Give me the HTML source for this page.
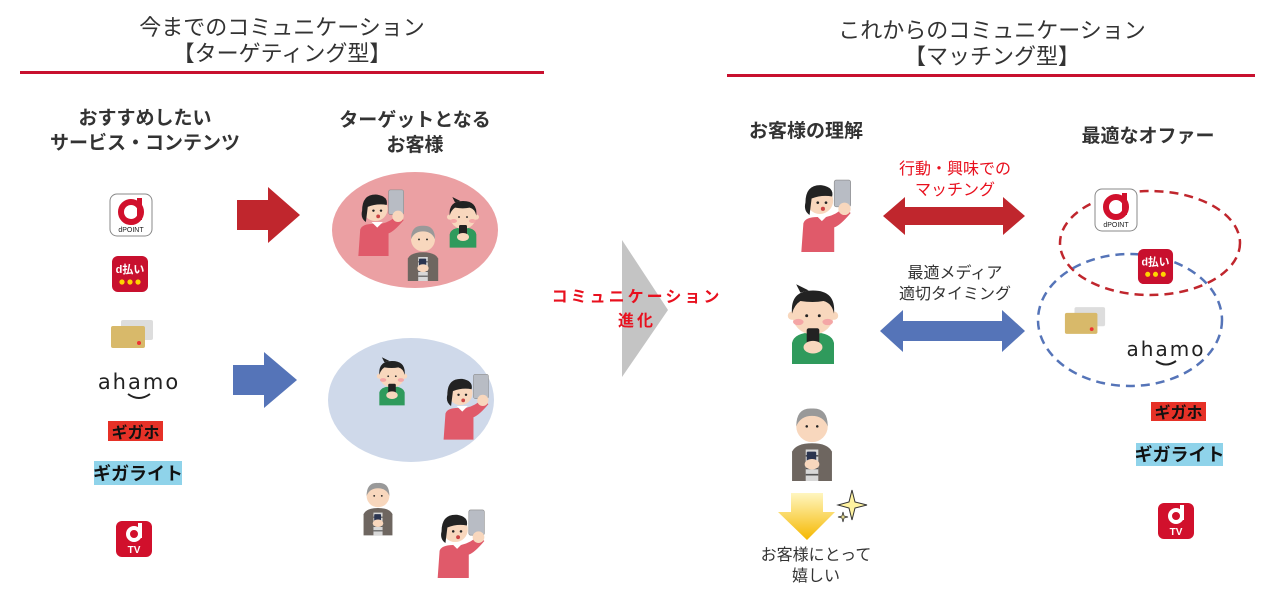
<!DOCTYPE html>
<html><head><meta charset="utf-8">
<style>
body{margin:0;width:1280px;height:593px;background:#fff;position:relative;overflow:hidden;font-family:"Liberation Sans","Noto Sans CJK JP",sans-serif;}
.t{position:absolute;text-align:center;white-space:nowrap;color:#333;}
.ab{position:absolute;}
</style></head><body>
<svg width="1280" height="593" style="position:absolute;left:0;top:0">
<defs>
<symbol id="woman" viewBox="0 0 60 72">
<rect x="38" y="2" width="16" height="26" rx="2" fill="#b8bcc4" stroke="#888" stroke-width="0.6"/>
<path d="M8 44 Q10 38 22 38 L30 38 Q40 36 48 28 L54 34 Q44 46 38 48 L38 72 L6 72 Z" fill="#e05a6a"/>
<circle cx="48" cy="30" r="6" fill="#f8d7bd"/>
<path d="M20 36 L26 42 L32 36 Z" fill="#fff"/>
<circle cx="24" cy="22" r="13" fill="#f8d7bd"/>
<path d="M10 24 Q10 6 26 7 Q38 9 36 18 Q26 16 16 20 L14 36 Q8 32 10 24Z" fill="#222"/>
<circle cx="22" cy="24" r="1.3" fill="#222"/><circle cx="30" cy="24" r="1.3" fill="#222"/>
<ellipse cx="27" cy="30" rx="2" ry="2" fill="#c44"/>
</symbol>
<symbol id="boy" viewBox="0 0 60 80">
<path d="M10 80 L10 60 Q12 50 30 50 Q48 50 50 60 L50 80Z" fill="#2f9a5c"/>
<circle cx="30" cy="32" r="20" fill="#f8d7bd"/>
<circle cx="10" cy="34" r="4" fill="#f8d7bd"/><circle cx="50" cy="34" r="4" fill="#f8d7bd"/>
<path d="M10 32 Q8 10 30 10 Q52 10 50 32 Q48 22 40 20 Q30 22 18 20 Q12 24 10 32Z" fill="#222"/>
<path d="M18 12 L14 4 L26 10Z" fill="#222"/>
<ellipse cx="16" cy="40" rx="5" ry="3" fill="#f4a6a6"/><ellipse cx="44" cy="40" rx="5" ry="3" fill="#f4a6a6"/>
<circle cx="24" cy="34" r="1.4" fill="#222"/><circle cx="36" cy="34" r="1.4" fill="#222"/>
<rect x="24" y="46" width="12" height="22" rx="2" fill="#222"/>
<ellipse cx="30" cy="64" rx="9" ry="6" fill="#f8d7bd"/>
</symbol>
<symbol id="oldman" viewBox="0 0 50 80">
<path d="M6 80 L6 52 Q10 44 25 44 Q40 44 44 52 L44 80Z" fill="#6e6660"/>
<rect x="19" y="50" width="12" height="30" fill="#d8d8d8"/>
<path d="M19 56 H31 M19 62 H31 M19 68 H31 M19 74 H31" stroke="#555" stroke-width="1.5"/>
<circle cx="25" cy="28" r="15" fill="#f8d7bd"/>
<path d="M10 28 Q10 10 25 11 Q40 10 40 28 Q36 18 25 18 Q14 18 10 28Z" fill="#999"/>
<circle cx="20" cy="28" r="1.2" fill="#222"/><circle cx="30" cy="28" r="1.2" fill="#222"/>
<rect x="20" y="52" width="9" height="16" rx="1" fill="#2b3550"/>
<ellipse cx="25" cy="64" rx="7" ry="5" fill="#f8d7bd"/>
</symbol>
<symbol id="dpoint" viewBox="0 0 44 44">
<rect x="1" y="1" width="42" height="42" rx="7" fill="#fff" stroke="#888" stroke-width="1"/>
<circle cx="22" cy="19" r="10" fill="none" stroke="#d1102c" stroke-width="6"/>
<rect x="28" y="5" width="5" height="22" fill="#d1102c"/>
<text x="22" y="39" font-size="7" text-anchor="middle" fill="#222" font-family="Liberation Sans">dPOINT</text>
</symbol>
<symbol id="dpay" viewBox="0 0 38 38">
<rect x="1" y="1" width="36" height="36" rx="6" fill="#c8102e"/>
<text x="19" y="18" font-size="11" text-anchor="middle" fill="#fff" font-weight="bold" font-family="Liberation Sans, Noto Sans CJK JP">d払い</text>
<circle cx="11" cy="27" r="2.6" fill="#ffd400"/><circle cx="19" cy="27" r="2.6" fill="#ffd400"/><circle cx="27" cy="27" r="2.6" fill="#ffd400"/>
</symbol>
<symbol id="card" viewBox="0 0 46 32">
<rect x="12" y="2" width="32" height="20" rx="2" fill="#ddd"/>
<rect x="2" y="8" width="34" height="22" rx="2" fill="#d8b96a"/>
<circle cx="30" cy="25" r="2" fill="#e33"/>
</symbol>
<symbol id="dtv" viewBox="0 0 38 38">
<rect x="1" y="1" width="36" height="36" rx="6" fill="#d1102c"/>
<circle cx="19" cy="14" r="6" fill="none" stroke="#fff" stroke-width="4"/>
<rect x="23" y="3" width="4" height="15" fill="#fff"/>
<text x="19" y="33" font-size="10" text-anchor="middle" fill="#fff" font-weight="bold" font-family="Liberation Sans">TV</text>
</symbol>
<linearGradient id="yg" x1="0" y1="0" x2="0" y2="1"><stop offset="0" stop-color="#fff6c0"/><stop offset="1" stop-color="#f5b800"/></linearGradient>
</defs>
<rect x="20" y="71" width="524" height="3" fill="#c8102e"/>
<rect x="727" y="74" width="528" height="3" fill="#c8102e"/>
<use href="#dpoint" x="109" y="193" width="44" height="44"/>
<use href="#dpay" x="111" y="255" width="38" height="38"/>
<use href="#card" x="109" y="318" width="46" height="32"/>
<text x="139" y="389" font-size="21" text-anchor="middle" fill="#222" font-family="DejaVu Sans" letter-spacing="2">ahamo</text>
<path d="M128 394 Q139 402 150 394" stroke="#222" stroke-width="2" fill="none"/>
<rect x="108" y="421" width="55" height="20" fill="#e63127"/>
<text x="135.5" y="438" font-size="16" font-weight="bold" text-anchor="middle" fill="#111" font-family="Noto Sans CJK JP">ギガホ</text>
<rect x="94" y="461" width="88" height="24" fill="#8fd3ea"/>
<text x="138" y="480" font-size="18" font-weight="bold" text-anchor="middle" fill="#111" font-family="Noto Sans CJK JP">ギガライト</text>
<use href="#dtv" x="115" y="520" width="38" height="38"/>
<polygon points="237,200 268,200 268,187 300,215 268,243 268,230 237,230" fill="#c0262d"/>
<polygon points="233,365 264,365 264,352 297,380 264,408 264,395 233,395" fill="#5574b8"/>
<ellipse cx="415" cy="230" rx="83" ry="58" fill="#eba0a3"/>
<ellipse cx="411" cy="400" rx="83" ry="62" fill="#cfd9ea"/>
<use href="#woman" x="352" y="188" width="58" height="68"/>
<use href="#oldman" x="403" y="212" width="40" height="74"/>
<use href="#boy" x="443" y="188" width="40" height="66"/>
<use href="#boy" x="373" y="348" width="38" height="64"/>
<use href="#woman" x="438" y="372" width="56" height="68"/>
<use href="#oldman" x="359" y="468" width="38" height="74"/>
<use href="#woman" x="430" y="508" width="62" height="70"/>
<polygon points="622,240 668,310 622,377" fill="#c4c4c4"/>
<polygon points="883,216 905,197 905,207 1003,207 1003,197 1025,216 1003,235 1003,225 905,225 905,235" fill="#c0262d"/>
<polygon points="880,331 903,310 903,321 1002,321 1002,310 1025,331 1002,352 1002,341 903,341 903,352" fill="#5574b8"/>
<use href="#woman" x="790" y="178" width="72" height="74"/>
<use href="#boy" x="780" y="280" width="66" height="84"/>
<use href="#oldman" x="785" y="397" width="54" height="84"/>
<polygon points="791,493 823,493 823,512 835,512 807,540 778,512 791,512" fill="url(#yg)"/>
<path d="M852 490 L855 502 L867 505 L855 508 L852 520 L849 508 L838 505 L849 502Z" fill="#fff3a0" stroke="#333" stroke-width="1"/>
<path d="M843 512 L844 516 L848 517 L844 518 L843 522 L842 518 L838 517 L842 516Z" fill="#fff3a0" stroke="#333" stroke-width="0.8"/>
<ellipse cx="1150" cy="243" rx="90" ry="52" fill="none" stroke="#c0262d" stroke-width="2.5" stroke-dasharray="9,6"/>
<ellipse cx="1130" cy="320" rx="92" ry="66" fill="none" stroke="#5574b8" stroke-width="2.5" stroke-dasharray="9,6"/>
<use href="#dpoint" x="1094" y="188" width="44" height="44"/>
<use href="#dpay" x="1137" y="248" width="37" height="37"/>
<use href="#card" x="1063" y="305" width="44" height="31"/>
<text x="1166" y="356" font-size="20" text-anchor="middle" fill="#222" font-family="DejaVu Sans" letter-spacing="2">ahamo</text>
<path d="M1156 361 Q1166 368 1176 361" stroke="#222" stroke-width="2" fill="none"/>
<rect x="1151" y="402" width="55" height="19" fill="#e63127"/>
<text x="1178.5" y="418" font-size="16" font-weight="bold" text-anchor="middle" fill="#111" font-family="Noto Sans CJK JP">ギガホ</text>
<rect x="1136" y="443" width="87" height="23" fill="#8fd3ea"/>
<text x="1179.5" y="461" font-size="18" font-weight="bold" text-anchor="middle" fill="#111" font-family="Noto Sans CJK JP">ギガライト</text>
<use href="#dtv" x="1157" y="502" width="38" height="38"/>
</svg>
<div class="t" style="left:82px;top:15px;width:400px;font-size:22px;line-height:26px;font-weight:normal">今までのコミュニケーション<br>【ターゲティング型】</div>
<div class="t" style="left:792px;top:18px;width:400px;font-size:22px;line-height:26px;font-weight:normal">これからのコミュニケーション<br>【マッチング型】</div>
<div class="t" style="left:35px;top:106px;width:220px;font-size:19px;line-height:25px;font-weight:bold">おすすめしたい<br>サービス・コンテンツ</div>
<div class="t" style="left:305px;top:108px;width:220px;font-size:19px;line-height:25px;font-weight:bold">ターゲットとなる<br>お客様</div>
<div class="t" style="left:527px;top:286px;width:220px;font-size:16px;line-height:24px;font-weight:bold;color:#e8101e;letter-spacing:3px">コミュニケーション<br>進化</div>
<div class="t" style="left:706px;top:116px;width:200px;font-size:19px;font-weight:bold">お客様の理解</div>
<div class="t" style="left:1048px;top:121px;width:200px;font-size:19px;font-weight:bold">最適なオファー</div>
<div class="t" style="left:855px;top:159px;width:200px;font-size:16px;line-height:21px;color:#e8101e">行動・興味での<br>マッチング</div>
<div class="t" style="left:855px;top:263px;width:200px;font-size:16px;line-height:21px">最適メディア<br>適切タイミング</div>
<div class="t" style="left:716px;top:545px;width:200px;font-size:16px;line-height:21px">お客様にとって<br>嬉しい</div>
</body></html>
